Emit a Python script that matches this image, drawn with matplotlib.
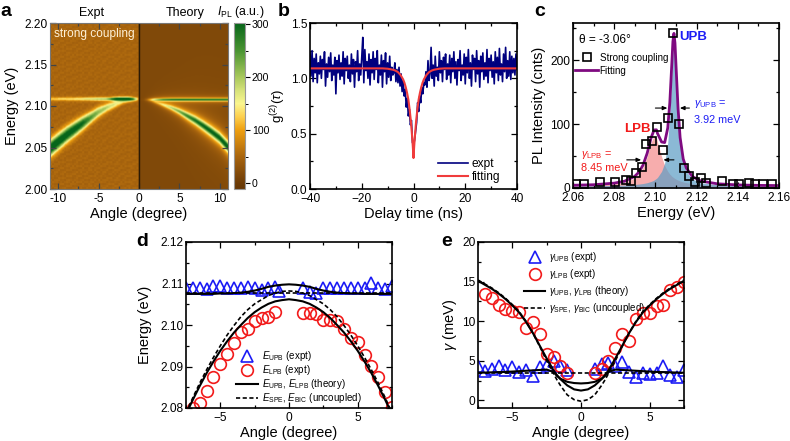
import numpy as np
import matplotlib
matplotlib.use("Agg")
import matplotlib.pyplot as plt
from matplotlib.colors import LinearSegmentedColormap
from matplotlib.ticker import MultipleLocator

plt.rcParams.update({
    "font.family": ["Liberation Sans", "DejaVu Sans"],
    "mathtext.fontset": "custom",
    "mathtext.rm": "Liberation Sans",
    "mathtext.it": "Liberation Sans:italic",
    "mathtext.bf": "Liberation Sans:bold",
    "font.size": 9,
    "axes.linewidth": 1.2,
})
W, H = 790, 441

# ---------- panel a: ridges (widths in meV) ----------
expt_lpb_angle = [-11, -10, -9, -8, -7, -6, -5, -4, -3, -2, -1, 0]
expt_lpb_energy = [2.049, 2.057, 2.065, 2.072, 2.079, 2.086, 2.093, 2.098, 2.102, 2.1055, 2.1075, 2.108]
expt_lpb_peak = [290, 285, 280, 270, 250, 200, 165, 140, 115, 80, 45, 10]
expt_lpb_width = [8.0, 7.8, 7.4, 7.0, 6.4, 5.6, 5.0, 4.2, 3.4, 2.6, 2.0, 1.6]
expt_upb_angle = [-11, -8, -6, -5, -4, -3.5, -3, -2.5, -2, -1.5, -1, -0.5, 0]
expt_upb_peak = [60, 75, 100, 115, 125, 170, 250, 295, 305, 300, 220, 110, 20]
expt_upb_energy = 2.1085
expt_background = 50
expt_grain = [
    [ 4, -6,  9, -3, -9,  6,  1, -7, 10, -4],
    [-8,  5, -2, 11, -5, -1,  8, -9,  3,  6],
    [ 7, -3, -10, 2,  8, -6,  4, 10, -7, -1],
    [-2, 10,  3, -8,  1,  9, -6, -3,  7, -9],
    [ 9, -7,  6,  4, -10, 2, 11, -5, -2,  5],
    [-5,  2, -9,  8,  6, -4, -8,  3,  9, -6],
    [ 1, 8, -4, -7, 10,  5, -2, -10, 6,  3],
    [-10, -1, 7,  3, -3, -8,  9,  5, -6, 10],
]
grain_scale = 0.5
theory_lpb_angle = [0, 1, 1.5, 2, 3, 4, 5, 6, 7, 8, 9, 10, 11]
theory_lpb_energy = [2.1075, 2.1065, 2.106, 2.1048, 2.1015, 2.098, 2.0935, 2.088, 2.0825, 2.076, 2.069, 2.0615, 2.051]
theory_lpb_peak = [0, 5, 25, 70, 125, 170, 210, 250, 275, 290, 300, 305, 310]
theory_lpb_width = [1.2, 1.3, 1.5, 1.8, 2.4, 2.9, 3.4, 4.0, 4.5, 4.9, 5.2, 5.4, 5.6]
theory_upb_angle = [0, 0.6, 1, 1.5, 2, 2.5, 3, 4, 5, 11]
theory_upb_peak = [0, 5, 40, 110, 170, 230, 270, 300, 310, 310]
theory_upb_width = [1.4, 1.4, 1.4, 1.3, 1.3, 1.2, 1.2, 1.2, 1.2, 1.2]
theory_upb_energy = 2.1077
theory_background = 16
cbar_stops = [(-11, "#663705"), (0, "#6d3c07"), (50, "#a9650e"), (100, "#ee9f10"), (125, "#fdcf4e"),
              (150, "#fbf68e"), (175, "#d6e27a"), (200, "#a8c85c"), (250, "#4a9432"), (302, "#07651a")]

# ---------- panel b ----------
g2_expt_left = [
    1.24,1.02,1.25,0.97,1.18,1.05,1.22,0.96,1.14,1.04,1.20,1.00,1.17,1.08,1.24,0.93,1.13,1.01,1.19,1.06,
    1.23,0.98,1.12,1.03,1.19,0.86,1.16,1.05,1.21,0.99,1.14,1.02,1.24,0.95,1.18,1.07,1.20,1.00,1.12,0.97,
    1.22,1.04,1.17,0.92,1.15,1.06,1.25,0.98,1.13,1.03,1.19,1.37,0.96,1.26,1.07,1.15,1.00,1.22,0.94,1.17,
    1.05,1.24,0.99,1.18,1.08,1.25,0.96,1.12,1.03,1.21,0.92,1.16,1.06,1.23,0.95,1.14,1.01,1.20,0.98,1.10,1.03]
g2_expt_dip = [
    1.05,1.14,0.97,1.08,0.96,1.10,0.93,1.04,0.88,0.98,0.84,0.90,0.74,0.82,0.66,0.72,0.58,0.62,0.42,0.40,
    0.44,0.52,0.60,0.78,0.70,0.84,0.78,0.92,0.86,0.96,0.94,1.06,0.92,1.16,0.98,1.04,1.28,1.00,1.12]
g2_expt_right = [
    0.93,1.20,1.02,1.10,0.98,1.24,1.05,1.16,0.97,1.19,1.08,1.22,0.99,1.13,1.03,1.21,0.96,1.18,1.06,1.24,
    1.00,1.15,0.94,1.17,1.07,1.25,0.98,1.12,1.03,1.22,0.95,1.19,1.05,1.26,1.00,1.14,0.93,1.21,1.08,1.18,
    0.97,1.25,1.04,1.16,0.92,1.20,1.06,1.23,0.99,1.14,1.02,1.26,0.96,1.18,1.07,1.21,1.01,1.15,0.95,1.24,
    1.05,1.19,0.98,1.27,1.03,1.13,0.97,1.22,1.06,1.28,1.00,1.16,1.02,1.24,0.99,1.20,1.05,1.18,1.03,1.22,1.08]
g2_fit_tau = [0, 0.25, 0.5, 1, 1.5, 2, 2.5, 3, 3.5, 4, 5, 6, 7, 8, 10, 12, 40]
g2_fit_val = [0.28, 0.38, 0.465, 0.61, 0.72, 0.81, 0.87, 0.92, 0.96, 0.99, 1.03, 1.056, 1.07, 1.078, 1.087, 1.09, 1.09]

# ---------- panel c ----------
pl_energy = [2.0616,2.0652,2.0729,2.0803,2.0855,2.0882,2.0906,2.0934,2.0956,2.0984,2.1008,2.1035,2.106,2.1087,
             2.1113,2.1137,2.1165,2.119,2.1219,2.1247,2.1321,2.1377,2.1406,2.1455,2.1482,2.1523,2.1568]
pl_counts = [7,7,10,10,13,11,24,33,69,73,95,60,110,242,100,32,19,9,15,8,11,7,7,8,7,6,6]
fit_energy = [2.06,2.07,2.08,2.085,2.09,2.092,2.094,2.096,2.098,2.099,2.0995,2.1005,2.101,2.103,2.1045,2.106,2.107,2.108,
              2.1085,2.109,2.1095,2.110,2.111,2.112,2.1135,2.115,2.118,2.122,2.13,2.14,2.15,2.16]
fit_lpb = [0.9,1.5,3.5,6,12.8,18.6,28.8,46,69,76,78,76,69,46,32,23,18.6,15.3,14,12.8,11.8,10.8,9.2,7.9,6.4,5.3,3.8,2.6,1.5,0.8,0.5,0.4]
fit_upb = [0.4,0.6,1.1,1.6,2.5,3.2,4,5.3,7.4,8.7,9.8,12,13.5,23,36,68,112,178,212,226,212,178,112,68,36,23,11,5.3,2.1,1,0.6,0.4]
fit_base = 3

# ---------- panel d ----------
lpb_angle = [-7,-6.5,-6,-5.5,-5,-4.5,-4,-3.5,-3,-2.5,-2,-1.5,-1,1,1.5,2,2.5,3,3.5,4,4.5,5,5.5,6,6.5,7,7.5]
lpb_energy = [2.08,2.0813,2.0841,2.0874,2.0905,2.0931,2.0956,2.0983,2.099,2.1009,2.1018,2.102,2.1031,
              2.103,2.103,2.1027,2.1013,2.1013,2.1009,2.099,2.0969,2.096,2.0927,2.0902,2.0874,2.0838,2.0803]
upb_angle = [-7.5,-7,-6.5,-6,-5.5,-5,-4.5,-4,-3.5,-3,-2.5,-2,-1.5,-1,-0.7,1,1.5,2,2.5,3,3.5,4,4.5,5,5.5,6,6.5,7,7.5]
upb_energy = [2.109,2.1088,2.1088,2.1087,2.1095,2.1093,2.1089,2.109,2.1089,2.1091,2.1088,2.1085,2.1088,2.1092,2.1082,
              2.1088,2.108,2.1077,2.1088,2.1089,2.109,2.1088,2.1088,2.109,2.109,2.1102,2.109,2.1087,2.1093]
th_angle = [0,0.5,1,1.5,2,2.5,3,3.5,4,4.5,5,5.5,6,6.5,7,7.5]
th_lower = [2.1062,2.1060,2.1057,2.1051,2.1042,2.1031,2.1017,2.1000,2.0982,2.0961,2.0938,2.0912,2.0884,2.0853,2.0820,2.0785]
th_upper = [2.1098,2.1097,2.1095,2.1092,2.1087,2.1083,2.1080,2.1078,2.1077,2.1076,2.1076,2.1075,2.1075,2.1075,2.1075,2.1075]
th_bic = [2.1082,2.1081,2.1077,2.1071,2.1061,2.1051,2.1037,2.1020,2.0999,2.0976,2.0950,2.0922,2.0892,2.0860,2.0825,2.0788]
th_spe = [2.1077]*16

# ---------- panel e ----------
glpb_angle = [-7,-6.5,-6,-5.5,-5,-4.5,-4,-3.5,-3,-2.5,-2,-1.5,-1,1,1.5,2,2.5,3,3.5,4,4.5,5,5.5,6,6.5,7,7.5]
glpb = [13.5,12.9,12.0,11.5,11.3,11.2,9.2,9.9,8.4,5.9,5.5,4.3,3.5,3.5,4.0,5.0,6.6,8.4,7.5,10.3,11.0,11.0,11.9,12.1,13.9,14.3,15.0]
gupb_angle = [-7.5,-7,-6.5,-6,-5.5,-5,-4.5,-4,-3.5,-3,-2.5,-2,-1.5,-1,1,1.5,2,2.5,3,3.5,4,4.5,5,5.5,6,6.5,7,7.5]
gupb = [4.3,3.7,4.0,4.4,3.8,4.2,3.6,3.9,3.1,4.2,4.5,5.0,4.4,3.8,4.0,4.6,4.7,4.3,4.8,3.6,3.0,3.5,3.3,3.5,4.3,3.2,3.0,3.8]
gth_angle = [0,0.5,1,1.5,1.75,2,2.5,3,3.5,4,4.5,5,5.5,6,6.5,7,7.5]
gth_a = [1.25,1.4,1.9,2.7,3.2,3.8,5.3,6.9,8.5,9.9,11.1,12.0,12.8,13.5,14.1,14.6,15.1]
gth_b = [2.15,2.2,2.35,2.75,3.1,3.6,3.9,3.85,3.8,3.75,3.7,3.65,3.6,3.58,3.55,3.52,3.5]
gth_dash = [-0.1,0.1,0.7,1.9,2.6,3.4,5.0,6.8,8.5,10.0,11.2,12.1,12.9,13.6,14.2,14.7,15.2]
gth_flat = [3.5]*17

BLUE, RED, PURPLE = "#1c1cf5", "#f21a1a", "#7f0a80"


def make_ax(l, t, r, b):
    return fig.add_axes([l / W, 1 - b / H, (r - l) / W, (b - t) / H])


def style(ax, color="black"):
    ax.tick_params(which="both", direction="in", top=True, right=True, labelsize=8.6, color=color, width=0.9)
    ax.tick_params(which="major", length=4)
    ax.tick_params(which="minor", length=2.2)
    ax.tick_params(axis="x", which="both", pad=3)
    ax.tick_params(axis="y", which="both", pad=2)


def sym(values):
    v = np.asarray(values, dtype=float)
    return np.concatenate([v[:0:-1], v])


def sym_x(values):
    v = np.asarray(values, dtype=float)
    return np.concatenate([-v[:0:-1], v])


fig = plt.figure(figsize=(W / 100, H / 100), dpi=100)
fig.text(0 / W, 1 - 16 / H, "a", fontsize=14, fontweight="bold")
fig.text(278 / W, 1 - 16 / H, "b", fontsize=14, fontweight="bold")
fig.text(534 / W, 1 - 16 / H, "c", fontsize=14, fontweight="bold")
fig.text(136 / W, 1 - 246 / H, "d", fontsize=14, fontweight="bold")
fig.text(441 / W, 1 - 246 / H, "e", fontsize=14, fontweight="bold")

# panel a
ax = make_ax(50, 23, 228, 189)
angles = np.linspace(-11, 11, 177)
energies = np.linspace(2.0, 2.2, 167)
img = np.zeros((energies.size, angles.size))
grain = np.array(expt_grain, dtype=float) * grain_scale


def lorentz(e, e0, g_mev):
    return 1 / (1 + ((e - e0) / (g_mev * 1e-3)) ** 2)


def gauss(e, e0, g_mev):
    return np.exp(-np.log(2) * ((e - e0) / (g_mev * 1e-3)) ** 2)


for j, a in enumerate(angles):
    if a < 0:
        e0 = np.interp(a, expt_lpb_angle, expt_lpb_energy)
        pk = np.interp(a, expt_lpb_angle, expt_lpb_peak)
        wd = np.interp(a, expt_lpb_angle, expt_lpb_width)
        up = np.interp(a, expt_upb_angle, expt_upb_peak)
        row_idx = (np.arange(energies.size) // 2 + j // 6) % 8
        col = expt_background + grain[row_idx, (j // 2 + 3 * (j // 20)) % 10]
        col = col + pk * gauss(energies, e0, wd) + up * gauss(energies, expt_upb_energy, 1.4)
        col = col + 0.3 * up * gauss(energies, expt_upb_energy, 2.6)
    else:
        e0 = np.interp(a, theory_lpb_angle, theory_lpb_energy)
        pk = np.interp(a, theory_lpb_angle, theory_lpb_peak)
        wd = np.interp(a, theory_lpb_angle, theory_lpb_width)
        up = np.interp(a, theory_upb_angle, theory_upb_peak)
        uw = np.interp(a, theory_upb_angle, theory_upb_width)
        col = theory_background + pk * lorentz(energies, e0, wd) + up * lorentz(energies, theory_upb_energy, uw)
    img[:, j] = col
vals, cols = zip(*cbar_stops)
vmin, vmax = vals[0], vals[-1]
cmap = LinearSegmentedColormap.from_list("ipl", [((v - vmin) / (vmax - vmin), c) for v, c in cbar_stops], N=512)
im = ax.imshow(img, origin="lower", aspect="auto", extent=[-11, 11, 2.0, 2.2], cmap=cmap, vmin=vmin, vmax=vmax,
               interpolation="bilinear")
ax.axvline(0, color="#2a1a05", lw=1.0)
ax.set_xlim(-11, 11)
ax.set_ylim(2.0, 2.2)
ax.set_xticks([-10, -5, 0, 5, 10])
ax.set_xticklabels(["-10", "-5", "0", "5", "10"])
ax.xaxis.set_minor_locator(MultipleLocator(2.5))
ax.set_yticks([2.0, 2.05, 2.1, 2.15, 2.2])
ax.set_yticklabels(["2.00", "2.05", "2.10", "2.15", "2.20"])
ax.yaxis.set_minor_locator(MultipleLocator(0.025))
style(ax, "#444444")
for s in ax.spines.values():
    s.set_color("#777777")
    s.set_linewidth(0.8)
ax.set_xlabel("Angle (degree)", fontsize=10.5, labelpad=1.5)
ax.set_ylabel("Energy (eV)", fontsize=10.5, labelpad=3.5)
ax.text(0.022, 0.935, "strong coupling", color="#fff2d8", fontsize=8.6, transform=ax.transAxes, va="center")
fig.text(92 / W, 1 - 13 / H, "Expt", fontsize=9, ha="center", va="center")
fig.text(185 / W, 1 - 13 / H, "Theory", fontsize=9, ha="center", va="center")
fig.text(217 / W, 1 - 12.5 / H, r"$I_{\mathrm{PL}}$ (a.u.)", fontsize=8.8, va="center")
cax = make_ax(234, 23, 245, 189)
cb = fig.colorbar(im, cax=cax)
cb.set_ticks([0, 100, 200, 300])
cb.ax.yaxis.set_minor_locator(MultipleLocator(50))
cb.ax.tick_params(which="major", length=3.5, labelsize=7.6, pad=1.5, width=0.8, direction="out")
cb.ax.tick_params(which="minor", length=2, width=0.7, direction="out")
cb.outline.set_edgecolor("#999999")
cb.outline.set_linewidth(0.8)

# panel b
ax = make_ax(310, 23, 517, 189)
g2_y = np.array(g2_expt_left + g2_expt_dip + g2_expt_right)
g2_x = np.linspace(-40, 40, g2_y.size)
ax.plot(g2_x, g2_y, color="#00007f", lw=1.2, label="expt")
ax.plot(sym_x(g2_fit_tau), sym(g2_fit_val), color="#f03c3c", lw=1.5, label="fitting")
ax.set_xlim(-40, 40)
ax.set_ylim(0, 1.5)
ax.set_xticks([-40, -20, 0, 20, 40])
ax.xaxis.set_minor_locator(MultipleLocator(10))
ax.set_yticks([0, 0.5, 1.0, 1.5])
ax.set_yticklabels(["0.0", "0.5", "1.0", "1.5"])
ax.yaxis.set_minor_locator(MultipleLocator(0.25))
style(ax)
ax.set_xlabel("Delay time (ns)", fontsize=10.5, labelpad=1.5)
ax.set_ylabel(r"g$^{(2)}$($\tau$)", fontsize=9.5, labelpad=2)
ax.legend(loc="lower right", frameon=False, fontsize=8.6, handlelength=2.5, handletextpad=0.35, labelspacing=0.1,
          bbox_to_anchor=(0.92, 0.035), borderaxespad=0, borderpad=0)

# panel c
ax = make_ax(573, 23, 779, 188)
fe = np.array(fit_energy)
lp = np.array(fit_lpb) + fit_base
up = np.array(fit_upb) + fit_base
ax.fill_between(fe, 0, lp, color="#f26a6a", alpha=0.55, lw=0)
ax.fill_between(fe, 0, up, color="#5a9cc4", alpha=0.7, lw=0)
h_fit, = ax.plot(fe, np.array(fit_lpb) + np.array(fit_upb) + fit_base, color=PURPLE, lw=2.0)
h_pts, = ax.plot(pl_energy, pl_counts, ls="none", marker="s", ms=5.2, mfc="none", mec="black", mew=1.2)
ax.set_xlim(2.06, 2.16)
ax.set_ylim(0, 258)
ax.set_xticks([2.06, 2.08, 2.10, 2.12, 2.14, 2.16])
ax.set_xticklabels(["2.06", "2.08", "2.10", "2.12", "2.14", "2.16"])
ax.xaxis.set_minor_locator(MultipleLocator(0.01))
ax.set_yticks([0, 100, 200])
ax.yaxis.set_minor_locator(MultipleLocator(50))
style(ax)
ax.set_xlabel("Energy (eV)", fontsize=10.5, labelpad=1.5)
ax.set_ylabel("PL Intensity (cnts)", fontsize=10.5, labelpad=3)
ax.legend([h_pts, h_fit], ["Strong coupling", "Fitting"], loc="upper left", frameon=False, fontsize=7.1,
          bbox_to_anchor=(0.01, 0.82), handlelength=2.35, handletextpad=0.15, labelspacing=0.3, borderaxespad=0,
          borderpad=0)
ax.text(2.0627, 231, "θ = -3.06°", fontsize=8.6, va="center")
ax.text(2.1115, 236, "UPB", color=BLUE, fontsize=9.5, fontweight="bold", va="center")
ax.text(2.0848, 93, "LPB", color=RED, fontsize=9.5, fontweight="bold", va="center")
ax.text(2.1187, 131, r"$\gamma_{\mathrm{UPB}}$ =", color=BLUE, fontsize=7.8, va="center")
ax.text(2.1187, 107, "3.92 meV", color=BLUE, fontsize=7.8, va="center")
ax.text(2.0639, 52, r"$\gamma_{\mathrm{LPB}}$ =", color=RED, fontsize=7.8, va="center")
ax.text(2.0639, 31, "8.45 meV", color=RED, fontsize=7.8, va="center")
arrow = dict(arrowstyle="-|>,head_width=0.13,head_length=0.3", color="black", lw=0.8, shrinkA=0, shrinkB=0)
ax.annotate("", xy=(2.1058, 125), xytext=(2.1, 125), arrowprops=arrow)
ax.annotate("", xy=(2.1119, 125), xytext=(2.1165, 125), arrowprops=arrow)
ax.annotate("", xy=(2.0931, 44), xytext=(2.0861, 44), arrowprops=arrow)
ax.annotate("", xy=(2.1039, 44), xytext=(2.109, 44), arrowprops=arrow)

# panel d
ax = make_ax(186, 242, 392, 408)
h_tri, = ax.plot(upb_angle, upb_energy, ls="none", marker="^", ms=8.4, mfc="none", mec=BLUE, mew=1.2)
h_cir, = ax.plot(lpb_angle, lpb_energy, ls="none", marker="o", ms=8.4, mfc="none", mec=RED, mew=1.2)
h_th, = ax.plot(sym_x(th_angle), sym(th_lower), color="black", lw=1.5)
ax.plot(sym_x(th_angle), sym(th_upper), color="black", lw=1.5)
h_da, = ax.plot(sym_x(th_angle), sym(th_bic), color="black", lw=1.2, ls=(0, (2.5, 1.5)))
ax.plot(sym_x(th_angle), sym(th_spe), color="black", lw=1.2, ls=(0, (2.5, 1.5)))
ax.set_xlim(-7.5, 7.5)
ax.set_ylim(2.08, 2.12)
ax.set_xticks([-5, 0, 5])
ax.xaxis.set_minor_locator(MultipleLocator(2.5))
ax.set_yticks([2.08, 2.09, 2.10, 2.11, 2.12])
ax.set_yticklabels(["2.08", "2.09", "2.10", "2.11", "2.12"])
ax.yaxis.set_minor_locator(MultipleLocator(0.005))
style(ax)
ax.set_xlabel("Angle (degree)", fontsize=10.5, labelpad=1.5)
ax.set_ylabel("Energy (eV)", fontsize=10.5, labelpad=6)
ax.legend([h_tri, h_cir, h_th, h_da],
          [r"$E_{\mathrm{UPB}}$ (expt)", r"$E_{\mathrm{LPB}}$ (expt)",
           r"$E_{\mathrm{UPB}}$, $E_{\mathrm{LPB}}$ (theory)", r"$E_{\mathrm{SPE}}$, $E_{\mathrm{BIC}}$ (uncoupled)"],
          loc="lower left", bbox_to_anchor=(0.245, 0.018), frameon=False, fontsize=7.0, handlelength=2.2,
          handletextpad=0.4, labelspacing=0.0, borderaxespad=0, numpoints=1, borderpad=0)

# panel e
ax = make_ax(478, 242, 684, 408)
h_tri, = ax.plot(gupb_angle, gupb, ls="none", marker="^", ms=8.4, mfc="none", mec=BLUE, mew=1.2)
h_cir, = ax.plot(glpb_angle, glpb, ls="none", marker="o", ms=8.4, mfc="none", mec=RED, mew=1.2)
h_th, = ax.plot(sym_x(gth_angle), sym(gth_a), color="black", lw=1.5)
ax.plot(sym_x(gth_angle), sym(gth_b), color="black", lw=1.5)
h_da, = ax.plot(sym_x(gth_angle), sym(gth_dash), color="black", lw=1.2, ls=(0, (2.5, 1.5)))
ax.plot(sym_x(gth_angle), sym(gth_flat), color="black", lw=1.2, ls=(0, (2.5, 1.5)))
ax.set_xlim(-7.5, 7.5)
ax.set_ylim(-0.95, 20)
ax.set_xticks([-5, 0, 5])
ax.xaxis.set_minor_locator(MultipleLocator(2.5))
ax.set_yticks([0, 5, 10, 15, 20])
ax.yaxis.set_minor_locator(MultipleLocator(2.5))
style(ax)
ax.set_xlabel("Angle (degree)", fontsize=10.5, labelpad=1.5)
ax.set_ylabel(r"$\gamma$ (meV)", fontsize=10.5, labelpad=2)
ax.legend([h_tri, h_cir, h_th, h_da],
          [r"$\gamma_{\mathrm{UPB}}$ (expt)", r"$\gamma_{\mathrm{LPB}}$ (expt)",
           r"$\gamma_{\mathrm{UPB}}$, $\gamma_{\mathrm{LPB}}$ (theory)", r"$\gamma_{\mathrm{SPE}}$, $\gamma_{\mathrm{BIC}}$ (uncoupled)"],
          loc="upper left", bbox_to_anchor=(0.223, 0.95), frameon=False, fontsize=7.0, handlelength=2.2,
          handletextpad=0.4, labelspacing=0.3, borderaxespad=0, numpoints=1, borderpad=0)

fig.savefig("out.png", dpi=100)
